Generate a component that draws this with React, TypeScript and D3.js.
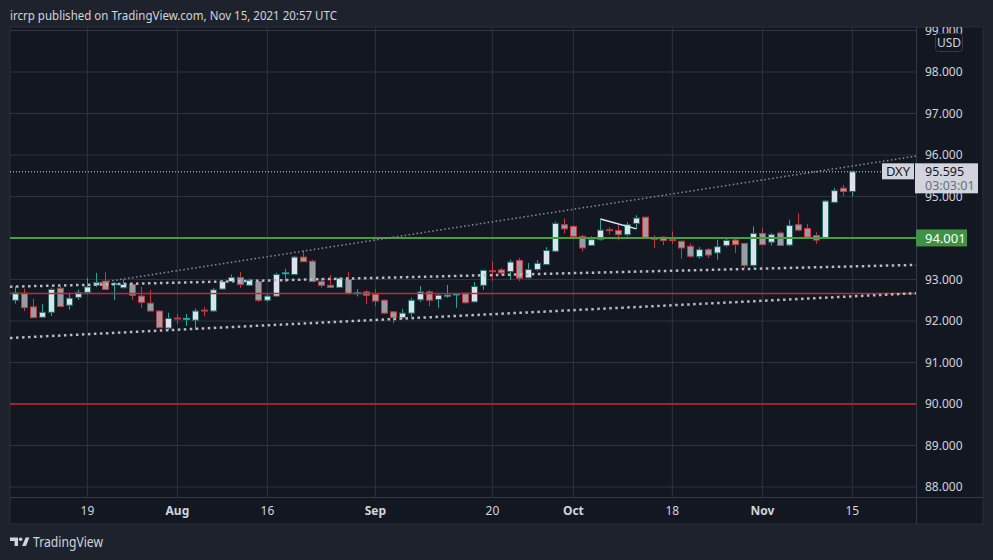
import React from "react";
import * as d3 from "d3";

// DXY daily candles, first bar 2021-07-07, weekdays only
const START_DATE = "2021-07-07";

const opens = [
  92.5, 92.67, 92.34, 92.09, 92.21, 92.79, 92.38, 92.57, 92.69, 92.86,
  92.96, 92.88, 92.8, 92.88, 92.6, 92.43, 92.24, 91.83, 92.06, 92.04,
  92.02, 92.25, 92.24, 92.77, 92.95, 93.05, 92.86, 92.95, 92.5, 92.6,
  93.14, 93.12, 93.54, 93.44, 92.95, 92.86, 92.81, 93.0, 92.66, 92.7,
  92.64, 92.5, 92.22, 92.08, 92.19, 92.51, 92.7, 92.52, 92.6, 92.6,
  92.67, 92.46, 92.86, 93.2, 93.23, 93.19, 93.46, 93.04, 93.24, 93.36,
  93.68, 94.32, 94.28, 94.04, 93.82, 93.96, 94.19, 94.18, 94.08, 94.35,
  94.5, 93.98, 94.02, 93.95, 93.92, 93.8, 93.55, 93.72, 93.64, 93.82,
  93.95, 93.87, 93.34, 94.11, 93.9, 94.12, 93.83, 94.32, 94.23, 94.06,
  93.99, 94.86, 95.2, 95.12,
];
const highs = [
  92.84, 92.78, 92.54, 92.41, 92.8, 92.82, 92.68, 92.76, 93.04, 93.16,
  93.18, 92.94, 93.0, 92.92, 92.82, 92.75, 92.26, 92.2, 92.17, 92.17,
  92.3, 92.34, 92.8, 92.99, 93.12, 93.18, 93.02, 92.98, 92.66, 93.16,
  93.26, 93.57, 93.7, 93.48, 93.04, 93.11, 93.05, 93.18, 92.77, 92.74,
  92.77, 92.52, 92.24, 92.29, 92.56, 92.84, 92.75, 92.66, 92.87, 92.66,
  92.68, 92.94, 93.24, 93.44, 93.28, 93.48, 93.52, 93.4, 93.47, 93.78,
  94.4, 94.47, 94.3, 94.08, 94.04, 94.44, 94.26, 94.32, 94.38, 94.55,
  94.52, 94.07, 94.04, 94.16, 93.94, 93.87, 93.78, 93.76, 93.96, 94.02,
  93.99, 93.88, 94.28, 94.24, 94.12, 94.16, 94.44, 94.6, 94.34, 94.14,
  94.92, 95.21, 95.28, 95.62,
];
const lows = [
  92.42, 92.24, 92.07, 92.08, 92.12, 92.34, 92.27, 92.51, 92.64, 92.82,
  92.74, 92.51, 92.79, 92.51, 92.32, 92.23, 91.83, 91.78, 91.93, 91.88,
  91.79, 92.11, 92.22, 92.75, 92.94, 92.8, 92.84, 92.46, 92.46, 92.59,
  92.94, 93.11, 93.42, 92.94, 92.8, 92.8, 92.8, 92.64, 92.59, 92.41,
  92.36, 92.18, 91.94, 92.05, 92.1, 92.46, 92.36, 92.32, 92.56, 92.32,
  92.42, 92.45, 92.75, 92.96, 93.11, 92.99, 92.96, 93.03, 93.2, 93.35,
  93.66, 94.11, 94.03, 93.67, 93.81, 93.94, 94.08, 93.94, 94.04, 94.22,
  93.98, 93.76, 93.83, 93.86, 93.5, 93.52, 93.5, 93.52, 93.48, 93.78,
  93.64, 93.28, 93.31, 93.82, 93.82, 93.81, 93.8, 94.16, 93.99, 93.86,
  93.98, 94.85, 95.01, 95.0,
];
const closes = [
  92.68, 92.32, 92.08, 92.21, 92.76, 92.35, 92.55, 92.69, 92.82, 92.93,
  92.76, 92.89, 92.88, 92.62, 92.45, 92.24, 91.84, 92.06, 92.05, 92.05,
  92.24, 92.23, 92.75, 92.95, 93.05, 92.88, 92.98, 92.5, 92.6, 93.12,
  93.15, 93.54, 93.43, 92.95, 92.86, 92.81, 93.03, 92.66, 92.67, 92.62,
  92.48, 92.19, 92.08, 92.19, 92.5, 92.7, 92.5, 92.62, 92.61, 92.64,
  92.44, 92.83, 93.22, 93.19, 93.16, 93.42, 93.03, 93.24, 93.39, 93.7,
  94.35, 94.22, 94.04, 93.76, 93.96, 94.19, 94.17, 94.08, 94.32, 94.48,
  93.99, 93.97, 93.94, 93.94, 93.76, 93.56, 93.72, 93.59, 93.79, 93.94,
  93.84, 93.34, 94.11, 93.84, 94.08, 93.82, 94.3, 94.19, 94.02, 93.95,
  94.89, 95.14, 95.12, 95.595,
];

const priceTicks = [88, 89, 90, 91, 92, 93, 94, 95, 96, 97, 98, 99];
const timeTicks = [
  { date: "2021-07-19", label: "19", month: false },
  { date: "2021-08-02", label: "Aug", month: true },
  { date: "2021-08-16", label: "16", month: false },
  { date: "2021-09-01", label: "Sep", month: true },
  { date: "2021-09-20", label: "20", month: false },
  { date: "2021-10-01", label: "Oct", month: true },
  { date: "2021-10-18", label: "18", month: false },
  { date: "2021-11-01", label: "Nov", month: true },
  { date: "2021-11-15", label: "15", month: false },
];

const greenLevel = 94.001;
const redLevels = [92.665, 90.0];
const lastPrice = 95.595;
const countdown = "03:03:01";
const symbol = "DXY";

// drawings, anchors as [bar index, price]
const upperChannel: [number, number][] = [[0, 92.83], [99.7, 93.35]];
const lowerChannel: [number, number][] = [[-0.6, 91.59], [100.07, 92.67]];
const risingLine: [number, number][] = [[9, 92.91], [99.7, 95.96]];
const drawnSegment: [number, number][] = [[65, 94.46], [69, 94.22]];

const W = 993;
const H = 560;
const panel = { left: 10, top: 27, right: 983, bottom: 524 };
const plotRight = 916;
const plotBottom = 497;

const FONT = "'Trebuchet MS', 'Noto Sans', sans-serif";
const TEXT = "#d1d4dc";
const GRID = "#2f333e";
const UP_BODY = "#dfe2ea";
const UP_EDGE = "#1d6b64";
const UP_WICK = "#26a69a";
const DOWN_BODY = "#9a9ca5";
const DOWN_EDGE = "#c2393e";

const fmt = d3.utcFormat("%Y-%m-%d");

function tradingDays(start: string, n: number): string[] {
  const out: string[] = [];
  const d = new Date(start + "T00:00:00Z");
  while (out.length < n) {
    const wd = d.getUTCDay();
    if (wd !== 0 && wd !== 6) out.push(fmt(d));
    d.setUTCDate(d.getUTCDate() + 1);
  }
  return out;
}

const App = () => {
  const dates = tradingDays(START_DATE, closes.length);

  const x = d3.scaleLinear().domain([-0.6, 100.07]).range([panel.left, plotRight]);
  const y = d3.scaleLinear().domain([88, 99]).range([487, 30.5]);

  const extend = (pts: [number, number][], from: number, to: number) => {
    const [[i1, p1], [i2, p2]] = pts;
    const k = (p2 - p1) / (i2 - i1);
    const [d0, d1] = x.domain();
    const a = from === -Infinity ? d0 : from;
    const b = to === Infinity ? d1 : to;
    return { x1: x(a), y1: y(p1 + k * (a - i1)), x2: x(b), y2: y(p1 + k * (b - i1)) };
  };

  const upper = extend(upperChannel, -Infinity, Infinity);
  const lower = extend(lowerChannel, -Infinity, Infinity);
  const rising = extend(risingLine, risingLine[0][0], Infinity);
  const seg = extend(drawnSegment, drawnSegment[0][0], drawnSegment[1][0]);

  const bodyW = 6;
  const yLast = y(lastPrice);
  const yGreen = y(greenLevel);

  return (
    <svg
      width={W}
      height={H}
      style={{ position: "absolute", left: 0, top: 0, display: "block" }}
      fontFamily={FONT}
    >
      <defs>
        <clipPath id="plot">
          <rect x={panel.left} y={panel.top} width={plotRight - panel.left} height={plotBottom - panel.top} />
        </clipPath>
        <clipPath id="axis">
          <rect x={plotRight} y={panel.top} width={panel.right - plotRight} height={plotBottom - panel.top} />
        </clipPath>
      </defs>

      <rect width={W} height={H} fill="#1e222d" />
      <text x={10} y={19.5} fontSize={13} fill={TEXT} textLength={327} lengthAdjust="spacingAndGlyphs">
        ircrp published on TradingView.com, Nov 15, 2021 20:57 UTC
      </text>

      <rect
        x={panel.left}
        y={panel.top}
        width={panel.right - panel.left}
        height={panel.bottom - panel.top}
        fill="#131722"
        stroke="#2a2e39"
      />

      {/* grid */}
      <g clipPath="url(#plot)">
        {priceTicks.map((p) => (
          <line key={p} x1={panel.left} x2={plotRight} y1={y(p)} y2={y(p)} stroke={GRID} />
        ))}
        {timeTicks.map((t) => {
          const xi = x(dates.indexOf(t.date));
          return <line key={t.date} x1={xi} x2={xi} y1={panel.top} y2={plotBottom} stroke={GRID} />;
        })}
      </g>

      {/* candles */}
      <g clipPath="url(#plot)">
        {closes.map((c, i) => {
          const o = opens[i];
          const up = c >= o;
          const xc = Math.round(x(i)) + 0.5;
          const yTop = y(Math.max(o, c));
          const yBot = y(Math.min(o, c));
          const hBody = yBot - yTop;
          const wick = up ? UP_WICK : DOWN_EDGE;
          return (
            <g key={i}>
              <line x1={xc} x2={xc} y1={y(highs[i])} y2={y(lows[i])} stroke={wick} strokeWidth={1} />
              {hBody < 2 ? (
                <rect x={xc - bodyW / 2 - 0.5} y={yTop - 1} width={bodyW + 1} height={2} fill={wick} />
              ) : (
                <rect
                  x={xc - bodyW / 2}
                  y={yTop}
                  width={bodyW}
                  height={hBody}
                  fill={up ? UP_BODY : DOWN_BODY}
                  stroke={up ? UP_EDGE : DOWN_EDGE}
                  strokeWidth={1}
                />
              )}
            </g>
          );
        })}
      </g>

      {/* drawings */}
      <g clipPath="url(#plot)">
        {redLevels.map((p) => (
          <line key={p} x1={panel.left} x2={plotRight} y1={y(p)} y2={y(p)} stroke="#c4282d" strokeWidth={1.5} />
        ))}
        <line x1={panel.left} x2={plotRight} y1={yGreen} y2={yGreen} stroke="#4a9d3f" strokeWidth={2} />
        <line {...upper} stroke="#b8bbc4" strokeWidth={2.5} strokeDasharray="2.5 3.5" />
        <line {...lower} stroke="#b8bbc4" strokeWidth={2.5} strokeDasharray="2.5 3.5" />
        <line {...rising} stroke="#8a8d96" strokeWidth={1.5} strokeDasharray="1.5 2.5" />
        <line {...seg} stroke="#e6e8ee" strokeWidth={1.5} />
        <line x1={panel.left} x2={882} y1={yLast} y2={yLast} stroke={TEXT} strokeWidth={1} strokeDasharray="1 2" />
      </g>

      {/* axes frame */}
      <line x1={plotRight + 0.5} x2={plotRight + 0.5} y1={panel.top} y2={panel.bottom} stroke="#363a45" />
      <line x1={panel.left} x2={panel.right} y1={plotBottom + 0.5} y2={plotBottom + 0.5} stroke="#363a45" />

      {/* price axis */}
      <g clipPath="url(#axis)">
        {priceTicks
          .filter((p) => p !== 94)
          .map((p) => (
            <text key={p} x={925} y={y(p)} dy="0.35em" fontSize={12} fill={TEXT}>
              {d3.format(".3f")(p)}
            </text>
          ))}
      </g>
      <rect x={935.5} y={33.5} width={27} height={18} rx={3} fill="#131722" stroke="#363a45" />
      <text x={949} y={42.5} dy="0.35em" fontSize={12} fill={TEXT} textAnchor="middle">
        USD
      </text>

      <rect x={916} y={yGreen - 8.5} width={51} height={17} fill="#3f9143" />
      <text x={925} y={yGreen} dy="0.35em" fontSize={13} fill="#ffffff">
        {d3.format(".3f")(greenLevel)}
      </text>

      <rect x={882} y={yLast - 8.5} width={32} height={16} fill={TEXT} />
      <text x={898} y={yLast - 0.5} dy="0.35em" fontSize={13} fill="#131722" textAnchor="middle">
        {symbol}
      </text>
      <rect x={915} y={yLast - 8.5} width={63} height={30} fill={TEXT} />
      <text x={925} y={yLast} dy="0.35em" fontSize={12.5} fill="#131722">
        {d3.format(".3f")(lastPrice)}
      </text>
      <text x={925} y={yLast + 14} dy="0.35em" fontSize={12.5} fill="#6a6d78">
        {countdown}
      </text>

      {/* time axis */}
      {timeTicks.map((t) => (
        <text
          key={t.date}
          x={x(dates.indexOf(t.date))}
          y={511}
          dy="0.35em"
          fontSize={12}
          fontWeight={t.month ? 700 : 400}
          fill={TEXT}
          textAnchor="middle"
        >
          {t.label}
        </text>
      ))}

      {/* footer logo */}
      <g fill={TEXT}>
        <path d="M10 537.5 H18 V546 H14.6 V541 H10 Z" />
        <circle cx={20.6} cy={539.3} r={1.8} />
        <path d="M22.2 546 L25.6 537.5 H29.4 L26 546 Z" />
      </g>
      <text x={33} y={542.5} dy="0.35em" fontSize={14} fill={TEXT} textLength={70} lengthAdjust="spacingAndGlyphs">
        TradingView
      </text>
    </svg>
  );
};

export default App;
